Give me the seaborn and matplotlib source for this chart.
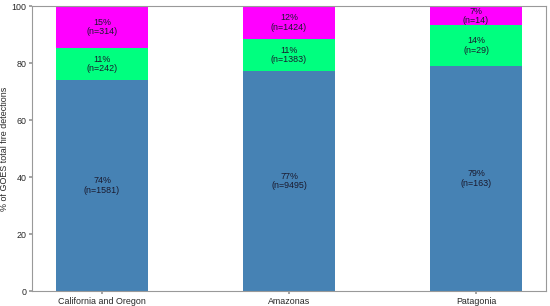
import matplotlib
matplotlib.use("Agg")
import matplotlib.pyplot as plt
import seaborn as sns
import pandas as pd

# Data
regions = ["California and Oregon", "Amazonas", "Patagonia"]
pct_blue = [74.0, 77.2, 79.1]
pct_green = [11.3, 11.2, 14.1]
pct_magenta = [14.7, 11.6, 6.8]
lbl_blue = ["74%", "77%", "79%"]
lbl_green = ["11%", "11%", "14%"]
lbl_magenta = ["15%", "12%", "7%"]
n_blue = [1581, 9495, 163]
n_green = [242, 1383, 29]
n_magenta = [314, 1424, 14]

colors = ["#4682b4", "#00ff7f", "#ff00ff"]

sns.set_theme(style="white")
plt.rcParams["font.family"] = ["Liberation Sans", "DejaVu Sans"]

df = pd.DataFrame({"region": regions, "blue": pct_blue,
                   "green": pct_green, "magenta": pct_magenta})
df["b2"] = df["blue"]
df["b3"] = df["blue"] + df["green"]

fig, ax = plt.subplots(figsize=(5.5, 3.06), dpi=100)

sns.barplot(data=df, x="region", y="blue", color=colors[0], width=0.49,
            saturation=1, ax=ax, linewidth=0)
sns.barplot(data=df, x="region", y="green", color=colors[1], width=0.49,
            saturation=1, ax=ax, bottom=df["b2"], linewidth=0)
sns.barplot(data=df, x="region", y="magenta", color=colors[2], width=0.49,
            saturation=1, ax=ax, bottom=df["b3"], linewidth=0)

# segment labels
for i in range(len(regions)):
    segs = [(0, pct_blue[i], lbl_blue[i], n_blue[i]),
            (pct_blue[i], pct_green[i], lbl_green[i], n_green[i]),
            (pct_blue[i] + pct_green[i], pct_magenta[i], lbl_magenta[i], n_magenta[i])]
    for bot, h, lab, n in segs:
        ax.text(i, bot + h / 2, f"{lab}\n(n={n})", ha="center", va="center",
                fontsize=6.4, color="#1a1a2e", linespacing=1.05)

ax.set_xlim(-0.375, 2.375)
ax.set_ylim(0, 100)
ax.set_yticks([0, 20, 40, 60, 80, 100])
ax.set_xlabel("")
ax.set_ylabel("% of GOES total fire detections", fontsize=6.4, labelpad=2)
ax.tick_params(axis="both", labelsize=6.4, length=2, color="#999999",
               bottom=True, left=True, pad=2)
for s in ax.spines.values():
    s.set_color("#999999")
    s.set_linewidth(0.8)

plt.subplots_adjust(left=0.058, right=0.993, top=0.98, bottom=0.049)
plt.savefig("out.png", dpi=100)
